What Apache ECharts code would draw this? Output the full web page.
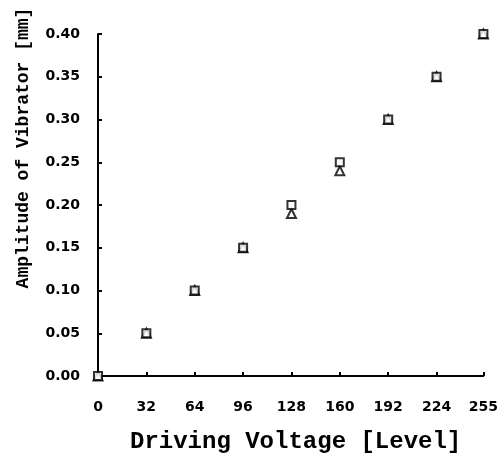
<!DOCTYPE html>
<html><head><meta charset="utf-8">
<script src="https://cdn.jsdelivr.net/npm/echarts@6/dist/echarts.min.js"></script>
<style>html,body{margin:0;padding:0;background:#fff}#c{width:501px;height:459px}</style>
</head><body><div id="c"></div>
<script>
const levels = [0, 32, 64, 96, 128, 160, 192, 224, 255];
const squareAmp = [0, 0.05, 0.10, 0.15, 0.20, 0.25, 0.30, 0.35, 0.40];
const triangleAmp = [0, 0.05, 0.10, 0.15, 0.19, 0.24, 0.30, 0.35, 0.40];
const xTitle = 'Driving Voltage [Level]';
const yTitle = 'Amplitude of Vibrator [mm]';

const chart = echarts.init(document.getElementById('c'));
const tickFont = {color:'#000', fontFamily:'DejaVu Sans', fontWeight:'bold', fontSize:14};
const mk = {color:'#fff', borderColor:'#000', borderWidth:2};
chart.setOption({
  animation:false,
  backgroundColor:'#fff',
  grid:{left:98, right:17, top:34, bottom:83},
  xAxis:{type:'value', min:0, max:255, interval:32,
    axisLine:{lineStyle:{color:'#000', width:2}},
    axisTick:{inside:true, length:4, lineStyle:{color:'#000', width:2}},
    splitLine:{show:false},
    axisLabel:Object.assign({margin:24, showMaxLabel:true}, tickFont)},
  yAxis:{type:'value', min:0, max:0.40, interval:0.05,
    axisLine:{show:true, lineStyle:{color:'#000', width:2}},
    axisTick:{show:true, inside:true, length:4, lineStyle:{color:'#000', width:2}},
    splitLine:{show:false},
    axisLabel:Object.assign({margin:18, formatter:v=>v.toFixed(2)}, tickFont)},
  graphic:[
    {type:'text', x:130, y:430, style:{text:xTitle, font:'bold 24px "Liberation Mono"', fill:'#000'}},
    {type:'text', x:23, y:148, rotation:Math.PI/2, style:{text:yTitle, font:'bold 18px "Liberation Mono"', fill:'#000', align:'center', verticalAlign:'middle'}}
  ],
  series:[
    {type:'scatter', symbol:'rect', symbolSize:8, itemStyle:mk, data:levels.map((x,i)=>[x, squareAmp[i]]), z:3},
    {type:'scatter', symbol:'triangle', symbolSize:9, itemStyle:mk, data:levels.map((x,i)=>[x, triangleAmp[i]]), z:2}
  ]
});
</script></body></html>
